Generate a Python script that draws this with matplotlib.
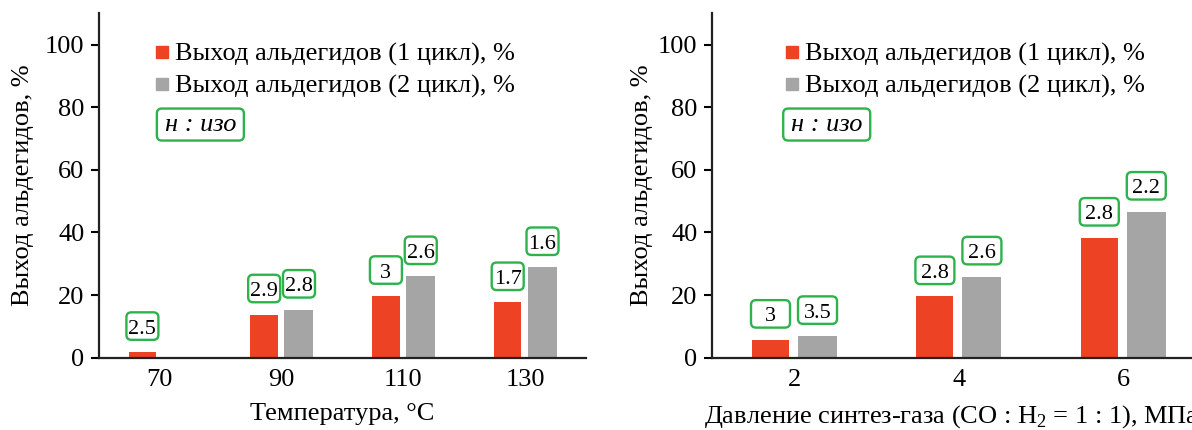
import matplotlib
matplotlib.use("Agg")
import matplotlib.pyplot as plt
from matplotlib.lines import Line2D
from matplotlib.patches import FancyBboxPatch
from matplotlib.transforms import ScaledTranslation

plt.rcParams['font.family'] = ['Liberation Serif', 'DejaVu Serif']
plt.rcParams['mathtext.fontset'] = 'custom'
plt.rcParams['mathtext.rm'] = 'Liberation Serif'

# данные: температура
temp_labels = ['70', '90', '110', '130']
temp_cycle1 = [1.8, 13.8, 19.7, 17.7]
temp_cycle2 = [None, 15.3, 26.0, 28.9]
temp_ratio1 = ['2.5', '2.9', '3', '1.7']
temp_ratio2 = [None, '2.8', '2.6', '1.6']

# данные: давление
press_labels = ['2', '4', '6']
press_cycle1 = [5.7, 19.6, 38.3]
press_cycle2 = [6.9, 25.9, 46.6]
press_ratio1 = ['3', '2.8', '2.8']
press_ratio2 = ['3.5', '2.6', '2.2']

RED = '#EE4224'
GRAY = '#A5A5A5'
GREEN = '#2EB24B'
FS = 19

fig = plt.figure(figsize=(11.92, 4.30), dpi=100)
ax1 = fig.add_axes([0.0831, 0.1681, 0.4086, 0.801])
ax2 = fig.add_axes([0.5973, 0.1681, 0.4027, 0.801])


def green_box(ax, x, y, w, h, trans, dy=0.0):
    # рамка фиксированного размера (в дюймах) вокруг точки x, y
    t = fig.dpi_scale_trans + ScaledTranslation(x, y, trans)
    p = FancyBboxPatch((-w / 2, dy - h / 2), w, h,
                       boxstyle='round,pad=0,rounding_size=0.05',
                       fc='white', ec=GREEN, lw=1.7, transform=t, zorder=3)
    ax.add_patch(p)


def bar_label(ax, x, y, text, box_w):
    dy = 0.26
    green_box(ax, x, y, box_w, 0.275, ax.transData, dy)
    ax.annotate(text, (x, y), xytext=(0, dy * 72 - 5.4), textcoords='offset points',
                ha='center', va='baseline', fontsize=16, zorder=4)


def draw_panel(ax, labels, c1, c2, r1, r2, xlabel, xmax, box_w, leg_x, iso_x, ylpad):
    for i in range(len(labels)):
        if c1[i] is not None:
            ax.bar(i - 0.144, c1[i], width=0.226, color=RED, zorder=2)
            bar_label(ax, i - 0.144, c1[i], r1[i], box_w)
        if c2[i] is not None:
            ax.bar(i + 0.142, c2[i], width=0.238, color=GRAY, zorder=2)
            bar_label(ax, i + 0.142, c2[i], r2[i], box_w)
    ax.set_xlim(-0.5, xmax)
    ax.set_ylim(0, 110)
    ax.set_yticks([0, 20, 40, 60, 80, 100])
    ax.set_xticks(range(len(labels)))
    ax.set_xticklabels(labels)
    ax.tick_params(axis='x', length=0, pad=8, labelsize=FS)
    ax.tick_params(axis='y', length=5.5, width=1.5, pad=5, labelsize=FS)
    for s in ['top', 'right']:
        ax.spines[s].set_visible(False)
    for s in ['left', 'bottom']:
        ax.spines[s].set_linewidth(1.6)
        ax.spines[s].set_color('#222222')
    ax.set_ylabel('Выход альдегидов, %', fontsize=FS, labelpad=ylpad)
    ax.set_xlabel(xlabel, fontsize=FS, labelpad=9)

    handles = [Line2D([], [], marker='s', ls='', color=RED, markersize=8),
               Line2D([], [], marker='s', ls='', color=GRAY, markersize=8)]
    ax.legend(handles, ['Выход альдегидов (1 цикл), %', 'Выход альдегидов (2 цикл), %'],
              loc='upper left', bbox_to_anchor=(leg_x, 0.915), frameon=False,
              fontsize=FS, handlelength=0.5, handletextpad=0.25, labelspacing=0.3,
              borderpad=0, borderaxespad=0)
    green_box(ax, iso_x, 0.677, 0.87, 0.32, ax.transAxes)
    ax.text(iso_x, 0.677, 'н : изо', transform=ax.transAxes, ha='center', va='center',
            fontsize=FS, style='italic', zorder=4)


draw_panel(ax1, temp_labels, temp_cycle1, temp_cycle2, temp_ratio1, temp_ratio2,
           'Температура, °C', 3.5, 0.32, 0.115, 0.208, 8)
draw_panel(ax2, press_labels, press_cycle1, press_cycle2, press_ratio1, press_ratio2,
           'Давление синтез-газа (CO : H$_2$ = 1 : 1), МПа', 2.42, 0.39, 0.152, 0.239, 3.5)

fig.savefig('out.png', dpi=100)
